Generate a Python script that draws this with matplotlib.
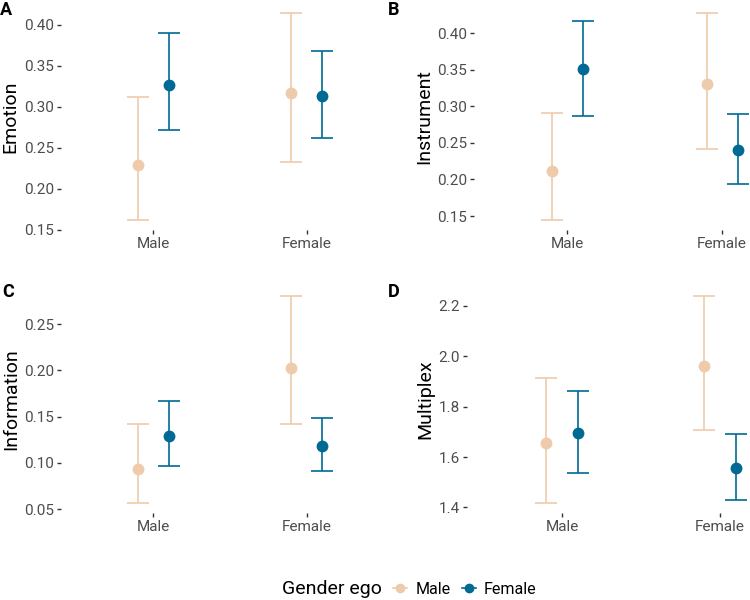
import matplotlib
matplotlib.use("Agg")
import matplotlib.pyplot as plt
from matplotlib.lines import Line2D

plt.rcParams['font.family'] = ['Roboto', 'DejaVu Sans']

categories = ['Male', 'Female']
ego_labels = ['Male', 'Female']
colors = ['#EECBAA', '#006A94']

# mean, lower, upper for each panel: [ego male, ego female] x categories
emotion_mean = [[0.229, 0.317], [0.327, 0.313]]
emotion_low = [[0.162, 0.233], [0.271, 0.262]]
emotion_high = [[0.312, 0.414], [0.390, 0.368]]

instrument_mean = [[0.211, 0.330], [0.351, 0.240]]
instrument_low = [[0.145, 0.242], [0.287, 0.194]]
instrument_high = [[0.291, 0.427], [0.417, 0.290]]

information_mean = [[0.093, 0.203], [0.129, 0.118]]
information_low = [[0.057, 0.142], [0.097, 0.091]]
information_high = [[0.142, 0.280], [0.167, 0.148]]

multiplex_mean = [[1.654, 1.961], [1.694, 1.557]]
multiplex_low = [[1.419, 1.708], [1.537, 1.431]]
multiplex_high = [[1.913, 2.238], [1.862, 1.691]]

panels = [
    ('A', 'Emotion', emotion_mean, emotion_low, emotion_high, [0.15, 0.20, 0.25, 0.30, 0.35, 0.40], '{:.2f}'),
    ('B', 'Instrument', instrument_mean, instrument_low, instrument_high, [0.15, 0.20, 0.25, 0.30, 0.35, 0.40], '{:.2f}'),
    ('C', 'Information', information_mean, information_low, information_high, [0.05, 0.10, 0.15, 0.20, 0.25], '{:.2f}'),
    ('D', 'Multiplex', multiplex_mean, multiplex_low, multiplex_high, [1.4, 1.6, 1.8, 2.0, 2.2], '{:.1f}'),
]

# axes boxes in pixels: left, top, right, bottom (right panels run past the edge)
W, H = 750, 600
boxes = [(61, 3, 399, 230), (474, 3, 815, 230), (61, 286, 399, 513), (467, 286, 815, 513)]
label_pos = [(0, 10), (388, 10), (2, 292), (388, 292)]

fig = plt.figure(figsize=(7.5, 6), dpi=100)

for (tag, name, mean, low, high, ticks, fmt), box, lp in zip(panels, boxes, label_pos):
    l, t, r, b = box
    ax = fig.add_axes([l / W, 1 - b / H, (r - l) / W, (b - t) / H])
    for g in range(2):
        xs = [i + 1 + (g - 0.5) * 0.2 for i in range(len(categories))]
        m = mean[g]
        err = [[m[i] - low[g][i] for i in range(2)], [high[g][i] - m[i] for i in range(2)]]
        ax.errorbar(xs, m, yerr=err, fmt='o', color=colors[g], ms=7.5,
                    elinewidth=1.2, capsize=8, capthick=1.2)
    ax.set_xlim(0.4, 2.6)
    ax.set_xticks([1, 2])
    ax.set_xticklabels(categories)
    ax.set_yticks(ticks)
    ax.set_yticklabels([fmt.format(v) for v in ticks])
    ax.margins(y=0.05)
    for s in ax.spines.values():
        s.set_visible(False)
    ax.tick_params(colors='#333333', labelcolor='#4D4D4D', labelsize=11, length=3, width=1, pad=2)
    ax.set_ylabel(name, fontsize=14, color='black', labelpad=3)
    fig.text(lp[0] / W, 1 - lp[1] / H, tag, fontsize=13, fontweight='bold', va='center', ha='left')

fig.text(282 / W, 1 - 589 / H, 'Gender ego', fontsize=14, va='center', ha='left')
handles = [Line2D([0], [0], color=c, marker='o', ms=6, lw=1.2) for c in colors]
fig.legend(handles, ego_labels, loc='center left', bbox_to_anchor=(393 / W, 1 - 589 / H),
           ncol=2, frameon=False, fontsize=11.5, handlelength=0.9, handletextpad=0.5,
           columnspacing=0.7, borderpad=0, borderaxespad=0)

plt.savefig('out.png', dpi=100)
